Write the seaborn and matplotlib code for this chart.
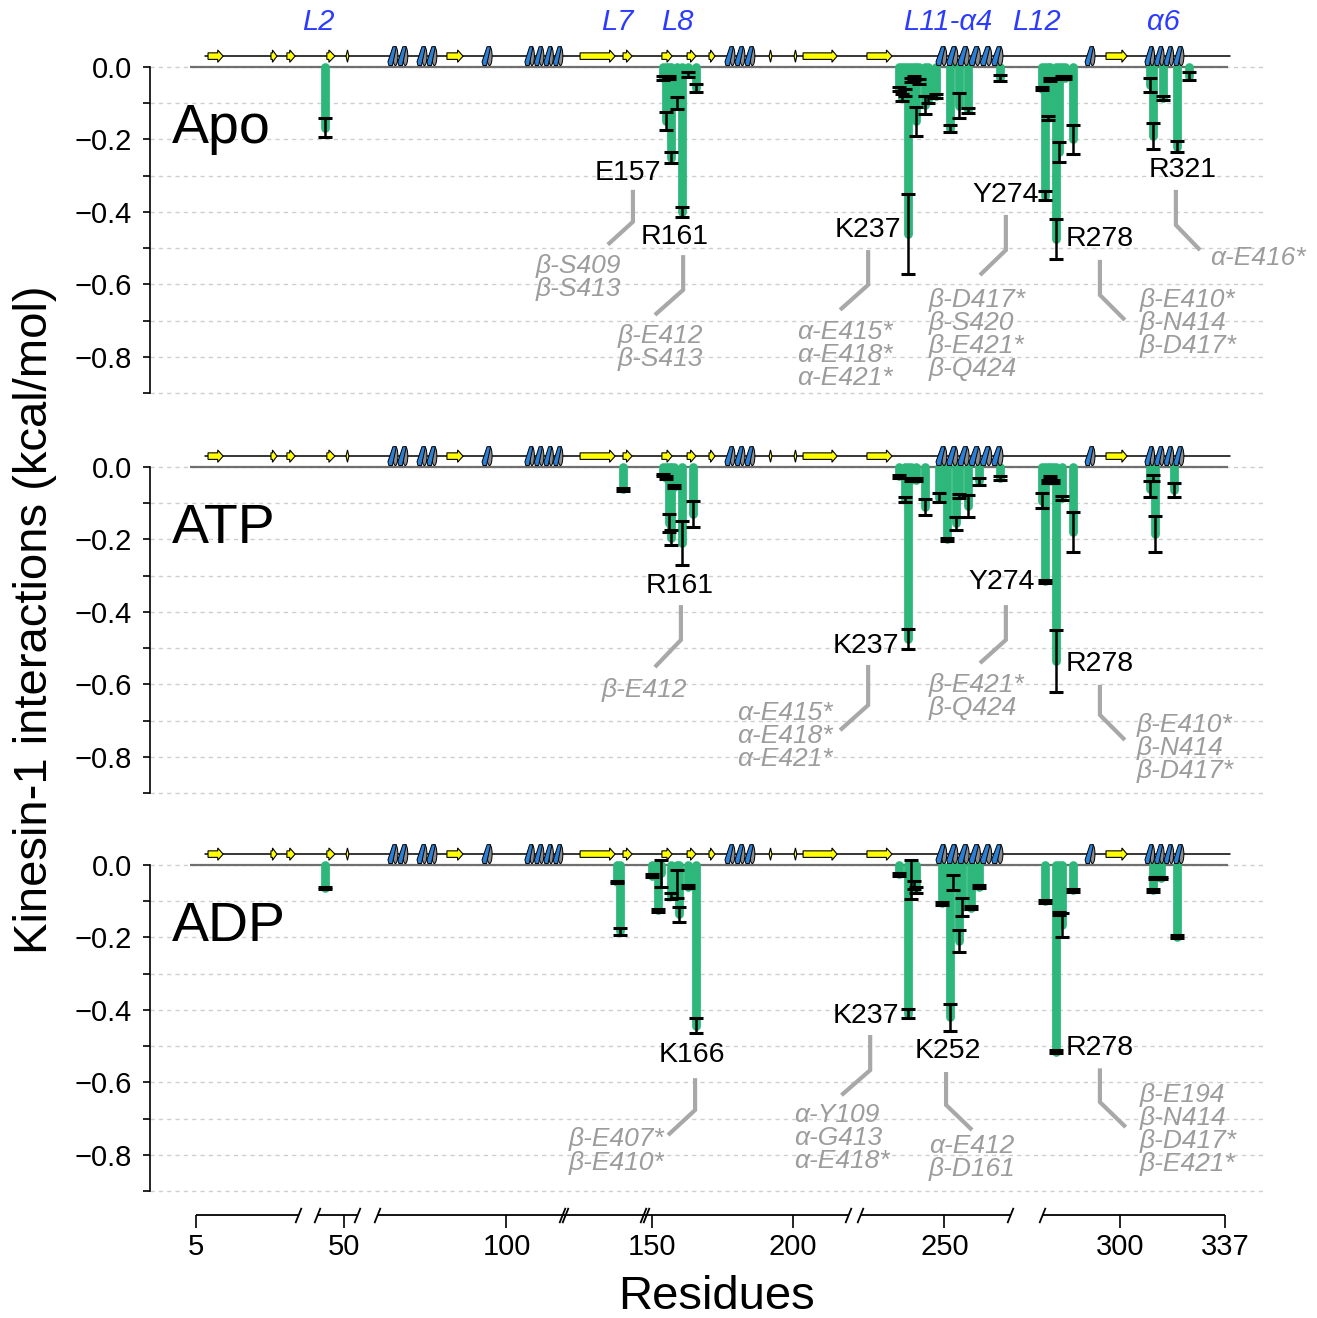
import numpy as np
import matplotlib
matplotlib.use("Agg")
import matplotlib.pyplot as plt
import seaborn as sns
from matplotlib.patches import Polygon, Ellipse

sns.set_theme(style="white")
plt.rcParams["font.family"] = ["Liberation Sans", "DejaVu Sans"]
plt.rcParams["text.color"] = "black"
plt.rcParams["xtick.color"] = "black"
plt.rcParams["ytick.color"] = "black"
plt.rcParams["axes.labelcolor"] = "black"

GREEN = "#2db77b"
BLUE = "#2a7fd6"
GREY = "#8a8a8a"
NOTE_GREY = "#9c9c9c"
LOOP_BLUE = "#2b3bff"

# broken residue axis: residue number -> horizontal position
axis_res = [-40, 5, 41, 41.5, 50, 54.5, 55, 100, 150, 161, 200, 220.2, 220.5,
            237, 252, 272.4, 273, 278, 300, 321, 337, 400]
axis_pos = [67.25, 195.5, 298, 316.5, 344, 357, 377, 506.5, 652.5, 682, 793, 848, 860,
            908, 950, 1010, 1042, 1056, 1120, 1177, 1225, 1414]

x_ticks = [5, 50, 100, 150, 200, 250, 300, 337]
x_segments = [(5, 41), (41.5, 54.5), (55, 220.2), (220.5, 272.4), (273, 337)]
single_breaks = [41, 41.5, 54.5, 55, 220.2, 220.5, 272.4, 273]
double_breaks = [119.5, 147.4]

y_major = [0.0, -0.2, -0.4, -0.6, -0.8]
y_labels = ["0.0", "\u22120.2", "\u22120.4", "\u22120.6", "\u22120.8"]
y_minor = [-0.1, -0.3, -0.5, -0.7, -0.9]

# secondary structure (residue ranges)
strands = [(9.4, 14.7), (31.5, 33.6), (37.1, 40.0), (44.7, 47.2), (50.7, 51.7),
           (79.3, 84.9), (125.2, 137.2), (139.9, 143.0), (153.5, 157.3), (162.8, 165.9),
           (170.5, 172.6), (191.6, 192.6), (200.4, 201.4), (203.7, 216.2), (222.9, 231.5),
           (295.2, 302.6)]
helices = [(58.8, 65.7), (68.9, 75.8), (91.5, 95.0), (106.3, 119.3), (176.1, 186.6),
           (247.0, 270.0), (288.0, 291.4), (309.2, 323.3)]
loop_names = ["L2", "L7", "L8", "L11-\u03b14", "L12", "\u03b16"]
loop_res = [42.0, 137.8, 159.1, 251.3, 272.9, 315.9]

# Apo
apo_res = [44, 154, 155, 156, 157, 159, 161, 163, 166, 234, 235, 236, 237, 238, 239, 240,
           241, 243, 244, 247, 252, 255, 258, 269, 273, 274, 275, 276, 278, 279, 280, 281,
           284, 311, 312, 316, 321, 325]
apo_val = [-0.167, -0.03, -0.15, -0.03, -0.25, -0.10, -0.40, -0.02, -0.058, -0.06, -0.085,
           -0.07, -0.46, -0.035, -0.03, -0.15, -0.04, -0.105, -0.09, -0.08, -0.17, -0.107,
           -0.12, -0.03, -0.06, -0.355, -0.14, -0.035, -0.475, -0.235, -0.03, -0.03, -0.20,
           -0.05, -0.19, -0.085, -0.22, -0.025]
apo_err = [0.027, 0.005, 0.025, 0.004, 0.015, 0.017, 0.015, 0.007, 0.012, 0.005, 0.01,
           0.01, 0.11, 0.006, 0.005, 0.04, 0.006, 0.025, 0.01, 0.005, 0.01, 0.035,
           0.008, 0.008, 0.004, 0.012, 0.005, 0.004, 0.055, 0.027, 0.004, 0.004, 0.04,
           0.02, 0.035, 0.006, 0.015, 0.01]

# ATP
atp_res = [140, 154, 155, 156, 157, 158, 161, 165, 234, 236, 237, 238, 240, 243, 248, 251,
           254, 255, 258, 262, 269, 273, 274, 275, 276, 277, 278, 280, 284, 311, 312, 313, 320]
atp_val = [-0.062, -0.022, -0.03, -0.155, -0.195, -0.055, -0.21, -0.13, -0.025, -0.09,
           -0.475, -0.035, -0.035, -0.11, -0.085, -0.20, -0.155, -0.08, -0.107, -0.04,
           -0.03, -0.093, -0.315, -0.04, -0.03, -0.04, -0.535, -0.085, -0.18, -0.062,
           -0.03, -0.185, -0.063]
atp_err = [0.004, 0.004, 0.004, 0.025, 0.02, 0.004, 0.06, 0.035, 0.004, 0.006, 0.028,
           0.004, 0.004, 0.023, 0.012, 0.005, 0.018, 0.005, 0.03, 0.01, 0.005, 0.02,
           0.004, 0.005, 0.004, 0.004, 0.085, 0.005, 0.055, 0.022, 0.008, 0.05, 0.02]

# ADP
adp_res = [44, 138, 139, 150, 152, 153, 157, 159, 160, 163, 166, 234, 237, 238, 239, 240,
           249, 252, 253, 255, 256, 259, 262, 274, 278, 279, 280, 284, 312, 313, 315, 321]
adp_val = [-0.063, -0.047, -0.183, -0.03, -0.125, -0.023, -0.085, -0.052, -0.136, -0.06,
           -0.443, -0.025, -0.41, -0.04, -0.055, -0.07, -0.105, -0.42, -0.048, -0.21,
           -0.115, -0.118, -0.06, -0.10, -0.515, -0.135, -0.165, -0.07, -0.07, -0.036,
           -0.036, -0.198]
adp_err = [0.003, 0.003, 0.01, 0.004, 0.004, 0.037, 0.008, 0.038, 0.02, 0.004, 0.02,
           0.004, 0.012, 0.055, 0.01, 0.008, 0.004, 0.037, 0.02, 0.03, 0.025, 0.004,
           0.004, 0.004, 0.004, 0.004, 0.033, 0.004, 0.004, 0.004, 0.004, 0.004]

# residue label, label pos, leader path, partner residues, partner pos, alignment
apo_notes = [
    ("E157", (141.6, -0.292), [(143.3, -0.339), (143.3, -0.427), (134.7, -0.49)],
     "\u03b2-S409\n\u03b2-S413", (124.5, -0.582), "center"),
    ("R161", (158.4, -0.469), [(161.4, -0.519), (161.4, -0.615), (150.9, -0.684)],
     "\u03b2-E412\n\u03b2-S413", (152.8, -0.775), "center"),
    ("K237", (223.3, -0.45), [(223.3, -0.505), (223.3, -0.601), (217.3, -0.67)],
     "\u03b1-E415*\n\u03b1-E418*\n\u03b1-E421*", (219.1, -0.794), "center"),
    ("Y274", (271.0, -0.353), [(271.0, -0.408), (271.0, -0.505), (262.2, -0.574)],
     "\u03b2-D417*\n\u03b2-S420\n\u03b2-E421*\n\u03b2-Q424", (244.5, -0.737), "left"),
    ("R278", (293.1, -0.474), [(293.1, -0.532), (293.1, -0.629), (301.8, -0.698)],
     "\u03b2-E410*\n\u03b2-N414\n\u03b2-D417*", (307.4, -0.706), "left"),
    ("R321", (323.0, -0.284), [(320.6, -0.339), (320.6, -0.436), (328.7, -0.505)],
     "\u03b1-E416*", (332.0, -0.527), "left"),
]
atp_notes = [
    ("R161", (160.3, -0.328), [(160.6, -0.381), (160.6, -0.477), (150.9, -0.552)],
     "\u03b2-E412", (147.1, -0.615), "center"),
    ("K237", (222.6, -0.494), [(223.3, -0.546), (223.3, -0.657), (217.3, -0.726)],
     "\u03b1-E415*\n\u03b1-E418*\n\u03b1-E421*", (197.2, -0.742), "center"),
    ("Y274", (269.7, -0.317), [(271.0, -0.381), (271.0, -0.477), (262.2, -0.541)],
     "\u03b2-E421*\n\u03b2-Q424", (244.5, -0.634), "left"),
    ("R278", (293.1, -0.543), [(293.1, -0.601), (293.1, -0.684), (301.8, -0.753)],
     "\u03b2-E410*\n\u03b2-N414\n\u03b2-D417*", (306.0, -0.775), "left"),
]
adp_notes = [
    ("K166", (164.5, -0.524), [(165.6, -0.588), (165.6, -0.676), (155.8, -0.745)],
     "\u03b2-E407*\n\u03b2-E410*", (137.8, -0.789), "center"),
    ("K237", (222.6, -0.417), [(224.0, -0.469), (224.0, -0.566), (217.8, -0.635)],
     "\u03b1-Y109\n\u03b1-G413\n\u03b1-E418*", (200.4, -0.753), "left"),
    ("K252", (251.3, -0.513), [(250.6, -0.571), (250.6, -0.662), (259.5, -0.731)],
     "\u03b1-E412\n\u03b2-D161", (244.5, -0.808), "left"),
    ("R278", (293.1, -0.505), [(293.1, -0.561), (293.1, -0.654), (302.1, -0.723)],
     "\u03b2-E194\n\u03b2-N414\n\u03b2-D417*\n\u03b2-E421*", (307.4, -0.73), "left"),
]


def fwd(x):
    return np.interp(x, axis_res, axis_pos)


def inv(p):
    return np.interp(p, axis_pos, axis_res)


def draw_strand(ax, a, b, yc=0.03):
    hh, bh = 0.017, 0.009
    if b - a < 1.3:
        m = (a + b) / 2
        verts = [(a, yc), (m, yc + hh), (b, yc), (m, yc - hh)]
    else:
        hl = min(1.9, 0.75 * (b - a))
        verts = [(a, yc - bh), (b - hl, yc - bh), (b - hl, yc - hh), (b, yc),
                 (b - hl, yc + hh), (b - hl, yc + bh), (a, yc + bh)]
    ax.add_patch(Polygon(verts, closed=True, fc="#ffff00", ec="black", lw=0.8, zorder=5))


def draw_helix(ax, a, b, yc=0.03, h=0.026):
    # coil drawn as grey back ovals with slanted blue front bands
    n = max(1, int(round((b - a) / 3.6)))
    w = (b - a) / n
    for i in range(n):
        x0 = a + i * w
        ax.add_patch(Ellipse((x0 + 0.75 * w, yc), 0.5 * w, 2 * h, fc=GREY, ec="black",
                             lw=0.7, zorder=5))
        ax.add_patch(Polygon([(x0, yc - h * 0.6), (x0 + 0.1 * w, yc - h), (x0 + 0.45 * w, yc - h),
                              (x0 + 0.85 * w, yc + h), (x0 + 0.5 * w, yc + h)],
                             closed=True, fc=BLUE, ec="black", lw=0.7, zorder=6))


fig = plt.figure(figsize=(13.17, 13.18), dpi=100)
left, width, height = 0.1139, 0.8466, 0.26541
bottoms = [0.70026, 0.39677, 0.09480]
panels = [("Apo", apo_res, apo_val, apo_err, apo_notes),
          ("ATP", atp_res, atp_val, atp_err, atp_notes),
          ("ADP", adp_res, adp_val, adp_err, adp_notes)]

for k, ((name, res, val, err, notes), b) in enumerate(zip(panels, bottoms)):
    ax = fig.add_axes([left, b, width, height])
    ax.set_xscale("function", functions=(fwd, inv))
    ax.set_xlim(inv(150), inv(1265))
    ax.set_ylim(-0.905, 0.06)
    ax.patch.set_visible(False)

    ax.set_yticks(y_major)
    ax.set_yticklabels(y_labels)
    ax.set_yticks(y_minor, minor=True)
    ax.grid(True, which="both", axis="y", color="#cfcfcf", ls=(0, (3, 3)), lw=1.0)
    ax.set_axisbelow(True)
    sns.despine(ax=ax, top=True, right=True, bottom=True)
    ax.spines["left"].set_bounds(-0.9, 0)
    ax.spines["left"].set_color("black")
    ax.spines["left"].set_linewidth(1.2)
    ax.tick_params(axis="y", which="both", left=True, direction="out", length=5,
                   width=1.2, color="black", labelsize=21, labelcolor="black", pad=8)
    ax.tick_params(axis="x", which="both", bottom=False, labelbottom=False)

    ax.plot([3, 338], [0, 0], color="#6f6f6f", lw=1.6, zorder=1, solid_capstyle="butt")

    bars = ax.vlines(res, 0, val, colors=GREEN, lw=6.3, zorder=2)
    bars.set_capstyle("round")
    ax.errorbar(res, val, yerr=err, fmt="none", ecolor="black", elinewidth=1.8,
                capsize=5, capthick=2.2, zorder=3)

    # secondary structure strip
    ax.plot([8.3, 338.7], [0.03, 0.03], color="black", lw=1.1, zorder=4)
    for a_, b_ in strands:
        draw_strand(ax, a_, b_)
    for a_, b_ in helices:
        draw_helix(ax, a_, b_)

    ax.text(-3.3, -0.21, name, fontsize=40, ha="left", va="baseline", color="black")

    for lab, (lx, ly), path, partners, (gx, gy), ha in notes:
        ax.text(lx, ly, lab, fontsize=20.5, ha="center", va="center", zorder=7, color="black")
        px, py = zip(*path)
        ax.plot(px, py, color="#a8a8a8", lw=3.0, zorder=1, solid_capstyle="butt",
                solid_joinstyle="miter")
        ax.text(gx, gy, partners, fontsize=19, style="italic", color=NOTE_GREY,
                ha=ha, va="center", linespacing=0.95)

    if k == 0:
        for nm, r in zip(loop_names, loop_res):
            ax.text(r, 0.124, nm, fontsize=21, style="italic", color=LOOP_BLUE,
                    ha="center", va="center")

# broken residue axis at the bottom
axx = fig.add_axes([left, 1 - 1215 / 1318, width, 0.0005])
axx.set_xscale("function", functions=(fwd, inv))
axx.set_xlim(inv(150), inv(1265))
axx.set_ylim(0, 1)
axx.patch.set_visible(False)
for s in axx.spines.values():
    s.set_visible(False)
axx.set_yticks([])
axx.set_xticks(x_ticks)
axx.set_xticklabels([str(t) for t in x_ticks])
axx.tick_params(axis="x", bottom=True, direction="out", length=9, width=1.2,
                color="black", labelsize=21, labelcolor="black", pad=4)
for a_, b_ in x_segments:
    axx.plot([a_, b_], [0, 0], color="black", lw=1.3, clip_on=False, solid_capstyle="butt")
slash = [(-1, -2.5), (1, 2.5)]
axx.plot(single_breaks, np.zeros(len(single_breaks)), ls="none", marker=slash, ms=11,
         mec="black", mew=1.3, clip_on=False)
dbl = [x + d for x in double_breaks for d in (-0.5, 0.5)]
axx.plot(dbl, np.zeros(len(dbl)), ls="none", marker=slash, ms=11, mec="black", mew=1.3,
         clip_on=False)

fig.text(716 / 1317, 0.0072, "Residues", fontsize=34, ha="center", va="baseline",
         color="black")
fig.text(0.0266, 0.5296, "Kinesin-1 interactions (kcal/mol)", fontsize=34,
         rotation=90, ha="center", va="center", color="black")

fig.savefig("out.png", dpi=100)
